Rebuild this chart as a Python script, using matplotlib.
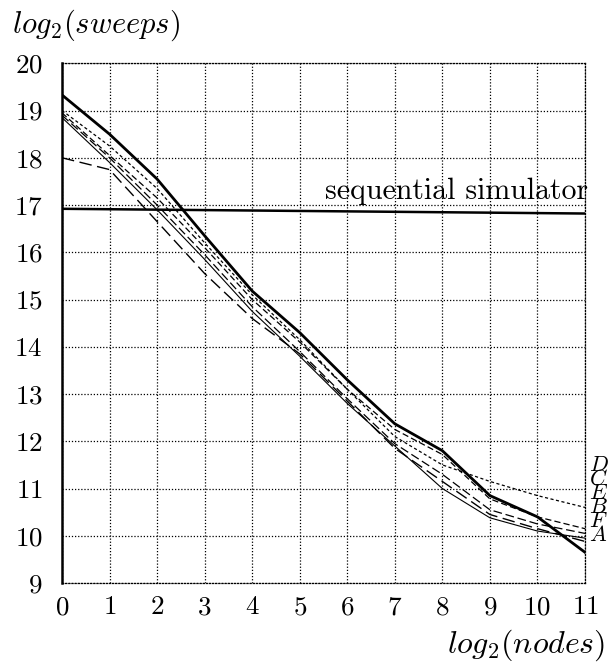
import numpy as np
import matplotlib
matplotlib.use("Agg")
import matplotlib.pyplot as plt

plt.rcParams['mathtext.fontset'] = 'cm'
plt.rcParams['font.family'] = 'cmr10'
plt.rcParams['axes.formatter.use_mathtext'] = True

nodes = list(range(12))
sweeps_A = [19.33, 18.5, 17.55, 16.35, 15.18, 14.3, 13.3, 12.37, 11.8, 10.85, 10.4, 9.65]
sweeps_D = [19.0, 18.25, 17.35, 16.2, 15.1, 14.15, 13.1, 12.1, 11.5, 11.15, 10.85, 10.6]
sweeps_C = [18.95, 18.05, 17.15, 16.1, 15.0, 14.1, 13.1, 12.25, 11.72, 10.78, 10.4, 10.15]
sweeps_E = [18.9, 18.0, 17.0, 15.95, 14.85, 13.9, 12.9, 11.95, 11.3, 10.55, 10.25, 10.05]
sweeps_B = [18.85, 17.9, 16.9, 15.85, 14.75, 13.8, 12.8, 11.9, 11.0, 10.38, 10.1, 9.95]
sweeps_F = [18.0, 17.75, 16.65, 15.55, 14.6, 13.85, 12.85, 11.85, 11.15, 10.45, 10.15, 9.88]
seq_x = [0, 11]
seq_y = [16.92, 16.82]
end_labels = ['D', 'C', 'E', 'B', 'F', 'A']

fig = plt.figure(figsize=(6.1, 6.66), dpi=100)
ax = fig.add_axes([0.1016, 0.1246, 0.8574, 0.7804])

ax.plot(nodes, sweeps_D, color='black', lw=0.9, dashes=(2.5, 2))
ax.plot(nodes, sweeps_C, color='black', lw=0.9, dashes=(5, 2.5))
ax.plot(nodes, sweeps_E, color='black', lw=0.9, dashes=(7, 3))
ax.plot(nodes, sweeps_B, color='black', lw=0.8)
ax.plot(nodes, sweeps_F, color='black', lw=1.0, dashes=(9, 4))
ax.plot(nodes, sweeps_A, color='black', lw=2.0)
ax.plot(seq_x, seq_y, color='black', lw=1.8)

ax.text(11.06, 17.0, 'sequential simulator', ha='right', va='bottom', fontsize=21.5,
        clip_on=False)

ax.set_xlim(0, 11)
ax.set_ylim(9, 20)
ax.set_xticks(range(12))
ax.set_yticks(range(9, 21))
ax.grid(True, color='black', ls=(0, (1, 1.5)), lw=0.9)
ax.tick_params(length=0, labelsize=19.5, pad=9)
ax.tick_params(axis='y', pad=14)

ax.spines['left'].set_linewidth(1.8)
for s in ['top', 'right', 'bottom']:
    ax.spines[s].set_linestyle((0, (1, 1.5)))
    ax.spines[s].set_linewidth(0.9)

fig.text(0.02, 0.962, r'$log_2(sweeps)$', fontsize=22, ha='left', va='center')
fig.text(0.992, 0.031, r'$log_2(nodes)$', fontsize=23, ha='right', va='center')

# end-of-line labels, stacked at the right edge
fig.text(589 / 610, 1 - 500 / 666, '\n'.join('$' + lab + '$' for lab in end_labels),
         fontsize=16, ha='left', va='center', linespacing=0.64)

fig.savefig('out.png', dpi=100)
